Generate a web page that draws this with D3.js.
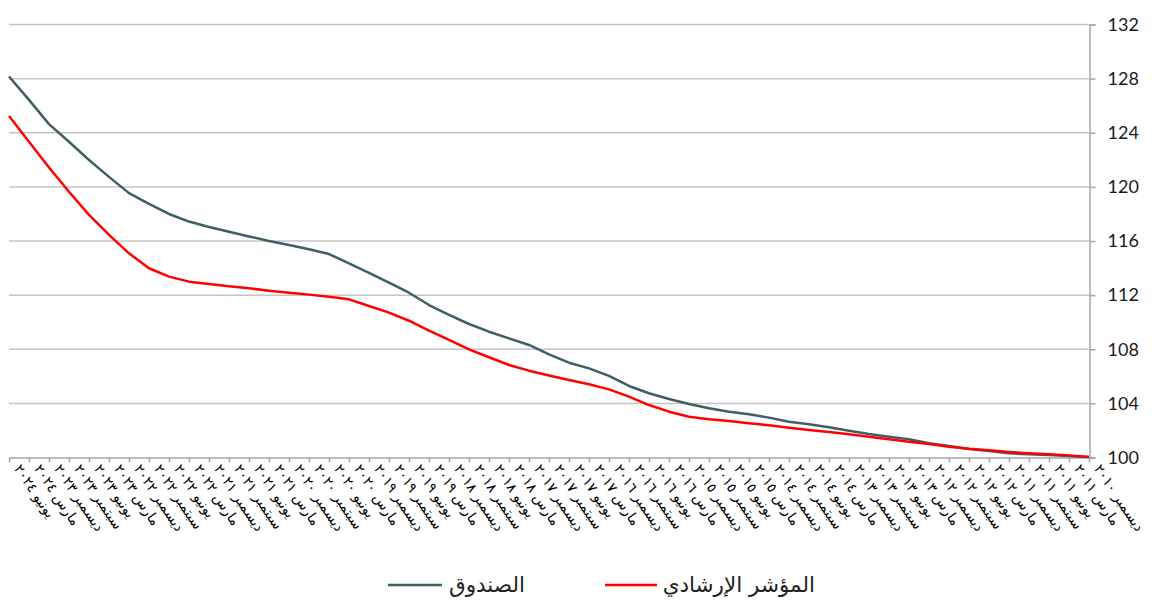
<!doctype html>
<html>

<head>
    <meta charset="utf-8">
    <title>fund vs benchmark</title>
    <style>
        body { margin: 0; background: #fff; }
        .grid line { stroke: #c4c4c4; stroke-width: 1.5; }
    </style>
    <script src="https://d3js.org/d3.v7.min.js"></script>
</head>

<body>
    <svg width="1152" height="603"></svg>
    <script>
        // quarters, oldest first (the chart is drawn right-to-left)
        var categories = [
            "ديسمبر ٢٠١٠",
            "مارس ٢٠١١", "يونيو ٢٠١١", "سبتمبر ٢٠١١", "ديسمبر ٢٠١١",
            "مارس ٢٠١٢", "يونيو ٢٠١٢", "سبتمبر ٢٠١٢", "ديسمبر ٢٠١٢",
            "مارس ٢٠١٣", "يونيو ٢٠١٣", "سبتمبر ٢٠١٣", "ديسمبر ٢٠١٣",
            "مارس ٢٠١٤", "يونيو ٢٠١٤", "سبتمبر ٢٠١٤", "ديسمبر ٢٠١٤",
            "مارس ٢٠١٥", "يونيو ٢٠١٥", "سبتمبر ٢٠١٥", "ديسمبر ٢٠١٥",
            "مارس ٢٠١٦", "يونيو ٢٠١٦", "سبتمبر ٢٠١٦", "ديسمبر ٢٠١٦",
            "مارس ٢٠١٧", "يونيو ٢٠١٧", "سبتمبر ٢٠١٧", "ديسمبر ٢٠١٧",
            "مارس ٢٠١٨", "يونيو ٢٠١٨", "سبتمبر ٢٠١٨", "ديسمبر ٢٠١٨",
            "مارس ٢٠١٩", "يونيو ٢٠١٩", "سبتمبر ٢٠١٩", "ديسمبر ٢٠١٩",
            "مارس ٢٠٢٠", "يونيو ٢٠٢٠", "سبتمبر ٢٠٢٠", "ديسمبر ٢٠٢٠",
            "مارس ٢٠٢١", "يونيو ٢٠٢١", "سبتمبر ٢٠٢١", "ديسمبر ٢٠٢١",
            "مارس ٢٠٢٢", "يونيو ٢٠٢٢", "سبتمبر ٢٠٢٢", "ديسمبر ٢٠٢٢",
            "مارس ٢٠٢٣", "يونيو ٢٠٢٣", "سبتمبر ٢٠٢٣", "ديسمبر ٢٠٢٣",
            "مارس ٢٠٢٤", "يونيو ٢٠٢٤"
        ];

        var fund = [
            100.0, 100.07, 100.15, 100.2, 100.27, 100.44, 100.59, 100.81, 101.01, 101.31,
            101.5, 101.7, 101.94, 102.2, 102.42, 102.61, 102.91, 103.16, 103.35, 103.6,
            103.92, 104.29, 104.71, 105.25, 105.99, 106.55, 106.97, 107.58, 108.28, 108.77,
            109.26, 109.83, 110.5, 111.23, 112.14, 112.88, 113.6, 114.31, 115.0, 115.35,
            115.67, 115.96, 116.3, 116.65, 117.0, 117.4, 117.96, 118.7, 119.5, 120.7,
            121.95, 123.3, 124.6, 126.39, 128.12
        ];

        var benchmark = [
            100.0, 100.12, 100.2, 100.27, 100.37, 100.5, 100.61, 100.76, 100.96, 101.13,
            101.31, 101.5, 101.68, 101.84, 102.0, 102.17, 102.34, 102.49, 102.66, 102.79,
            102.98, 103.35, 103.84, 104.46, 105.0, 105.37, 105.69, 106.03, 106.38, 106.8,
            107.37, 107.96, 108.65, 109.34, 110.07, 110.67, 111.16, 111.65, 111.85, 112.0,
            112.14, 112.29, 112.47, 112.62, 112.79, 112.96, 113.33, 113.95, 115.05, 116.41,
            117.89, 119.6, 121.4, 123.3, 125.2
        ];

        var yTicks = [100, 104, 108, 112, 116, 120, 124, 128, 132];

        var series = [
            { name: "الصندوق", values: fund, color: "#3f5e66" },
            { name: "المؤشر الإرشادي", values: benchmark, color: "#ff0000" }
        ];

        var svg = d3.select("svg");

        var plotLeft = 9, plotRight = 1089, plotTop = 24, plotBottom = 457;

        // reversed: newest on the left
        var xScale = d3.scalePoint().domain(categories).range([plotRight, plotLeft]),
            yScale = d3.scaleLinear().domain([100, 132]).range([plotBottom, plotTop]);

        // gridlines
        svg.append("g")
            .attr("class", "grid")
            .selectAll("line")
            .data(yTicks.slice(1))
            .enter()
            .append("line")
            .attr("x1", plotLeft)
            .attr("x2", plotRight)
            .attr("y1", function (d) { return yScale(d) + 0.5; })
            .attr("y2", function (d) { return yScale(d) + 0.5; });

        // right value axis
        var yAxis = svg.append("g")
            .attr("transform", "translate(" + (plotRight + 0.5) + ",0.5)")
            .call(d3.axisRight(yScale).tickValues(yTicks).tickSize(6).tickPadding(12));
        yAxis.select(".domain").attr("stroke", "#a6a6a6").attr("stroke-width", 1.5);
        yAxis.selectAll(".tick line").attr("stroke", "#a6a6a6").attr("stroke-width", 1.5);
        yAxis.selectAll(".tick text")
            .attr("font-family", "Lato, 'Liberation Sans', sans-serif")
            .attr("font-size", "18px")
            .attr("fill", "#1a1a1a");

        // category axis
        var xAxis = svg.append("g")
            .attr("transform", "translate(0," + (plotBottom + 0.5) + ")")
            .call(d3.axisBottom(xScale).tickSize(5).tickSizeOuter(0));
        xAxis.select(".domain").attr("stroke", "#a6a6a6").attr("stroke-width", 1.5);
        xAxis.selectAll(".tick line").attr("stroke", "#a6a6a6").attr("stroke-width", 1.5);
        xAxis.selectAll(".tick text")
            .attr("font-family", "'DejaVu Sans', sans-serif")
            .attr("font-size", "14px")
            .attr("fill", "#000")
            .attr("text-anchor", "start")
            .attr("dy", null)
            .attr("y", 0)
            .attr("transform", "translate(4,11) rotate(56)");

        var line = d3.line()
            .x(function (d, i) { return xScale(categories[i]); })
            .y(function (d) { return yScale(d); });

        svg.selectAll(".series")
            .data(series)
            .enter()
            .append("path")
            .attr("class", "series")
            .attr("fill", "none")
            .attr("stroke", function (d) { return d.color; })
            .attr("stroke-width", 2.5)
            .attr("stroke-linejoin", "round")
            .attr("d", function (d) { return line(d.values); });

        // legend
        var legendPos = [{ x1: 388, x2: 442, tx: 525 }, { x1: 605, x2: 657, tx: 815 }];
        var legend = svg.selectAll(".legend")
            .data(series)
            .enter()
            .append("g")
            .attr("class", "legend");

        legend.append("line")
            .attr("x1", function (d, i) { return legendPos[i].x1; })
            .attr("x2", function (d, i) { return legendPos[i].x2; })
            .attr("y1", 585)
            .attr("y2", 585)
            .attr("stroke", function (d) { return d.color; })
            .attr("stroke-width", 2.5);

        legend.append("text")
            .attr("x", function (d, i) { return legendPos[i].tx; })
            .attr("y", 592)
            .attr("text-anchor", "end")
            .attr("font-family", "'DejaVu Sans', sans-serif")
            .attr("font-size", "21.5px")
            .attr("fill", "#222")
            .text(function (d) { return d.name; });
    </script>
</body>

</html>
